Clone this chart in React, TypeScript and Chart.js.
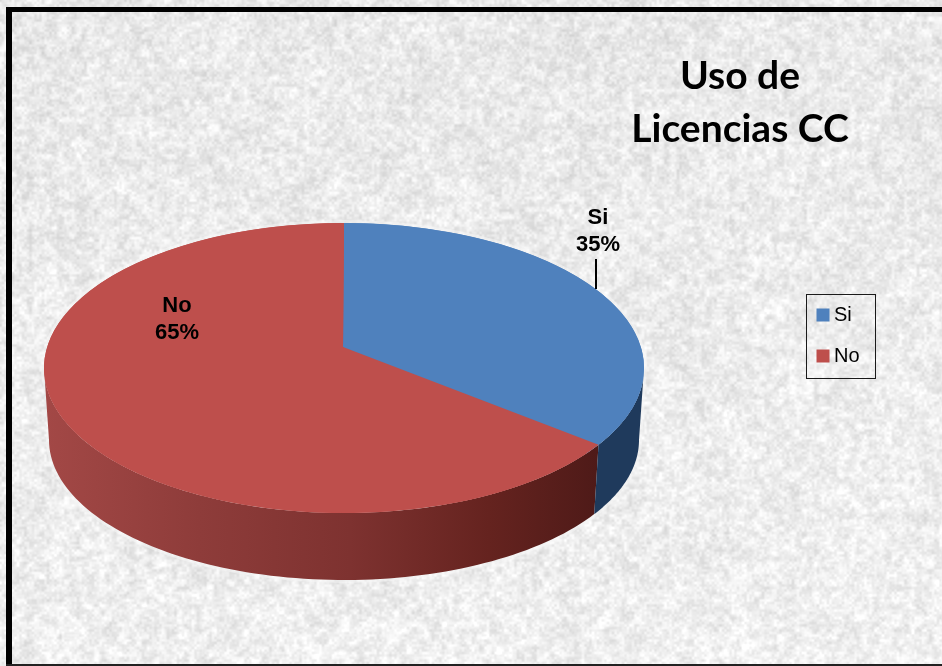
import React, { useEffect, useRef } from "react";
import { Chart, registerables } from "chart.js";

Chart.register(...registerables);

const categories = ["Si", "No"];
const percentages = [35, 65];
const topColors = ["#4F81BD", "#BE4F4C"];
const titleLines = ["Uso de", "Licencias CC"];

const W = 942;
const H = 666;
const TOP = { cx: 344, cy: 368, rx: 300, ry: 145 };
const BOTTOM = { cx: 344, cy: 440, rx: 295, ry: 140 };
const APEX = { x: 343, y: 347 };
const LABEL_POS = [
  { x: 598, y: 232 },
  { x: 177, y: 320 },
];
const LEGEND_BOX = { x: 806, y: 294, w: 69, h: 84 };
const TITLE_CENTER = 740;

const hash = (x: number, y: number, s: number) => {
  const v = Math.sin(x * 12.9898 + y * 78.233 + s * 37.719) * 43758.5453;
  return v - Math.floor(v);
};
const smooth = (t: number) => t * t * (3 - 2 * t);
const vnoise = (x: number, y: number, s: number) => {
  const xi = Math.floor(x), yi = Math.floor(y);
  const fx = smooth(x - xi), fy = smooth(y - yi);
  const a = hash(xi, yi, s), b = hash(xi + 1, yi, s);
  const c = hash(xi, yi + 1, s), d = hash(xi + 1, yi + 1, s);
  return (a + (b - a) * fx) * (1 - fy) + (c + (d - c) * fx) * fy;
};

let textureCache: HTMLCanvasElement | null = null;
function texture() {
  if (textureCache) return textureCache;
  const c = document.createElement("canvas");
  c.width = W;
  c.height = H;
  const g = c.getContext("2d")!;
  const img = g.createImageData(W, H);
  for (let y = 0; y < H; y++) {
    for (let x = 0; x < W; x++) {
      const n =
        (vnoise(x / 2.5, y / 2.5, 1) - 0.5) * 22 +
        (vnoise(x / 6, y / 6, 2) - 0.5) * 24 +
        (vnoise(x / 26, y / 26, 3) - 0.5) * 8;
      const v = 233 + (y / H) * 7 + n;
      const i = (y * W + x) * 4;
      img.data[i] = v;
      img.data[i + 1] = v;
      img.data[i + 2] = v;
      img.data[i + 3] = 255;
    }
  }
  g.putImageData(img, 0, 0);
  textureCache = c;
  return c;
}

const skew = (a: number) => {
  const t = a + Math.PI / 2;
  return a - 0.087 * Math.sin(t);
};
const onEllipse = (e: typeof TOP, a: number) => ({
  x: e.cx + e.rx * Math.cos(a),
  y: e.cy + e.ry * Math.sin(a),
});

function drawWall(ctx: CanvasRenderingContext2D, from: number, to: number, fill: string | CanvasGradient) {
  ctx.beginPath();
  const steps = 90;
  for (let i = 0; i <= steps; i++) {
    const p = onEllipse(TOP, from + ((to - from) * i) / steps);
    i === 0 ? ctx.moveTo(p.x, p.y) : ctx.lineTo(p.x, p.y);
  }
  for (let i = steps; i >= 0; i--) {
    const p = onEllipse(BOTTOM, from + ((to - from) * i) / steps);
    ctx.lineTo(p.x, p.y);
  }
  ctx.closePath();
  ctx.fillStyle = fill;
  ctx.fill();
}

const pie3d = {
  id: "pie3d",
  beforeDraw(chart: any) {
    const ctx = chart.ctx as CanvasRenderingContext2D;
    ctx.save();
    ctx.fillStyle = "#ffffff";
    ctx.fillRect(0, 0, W, H);
    ctx.drawImage(texture(), 0, 0);
    ctx.fillStyle = "#000000";
    ctx.fillRect(6, 7, 6, H - 7);
    ctx.fillRect(6, 7, W - 6, 5);
    ctx.fillStyle = "#222222";
    ctx.fillRect(6, 664, W - 6, 2);
    ctx.restore();
  },
  beforeDatasetDraw(chart: any) {
    const ctx = chart.ctx as CanvasRenderingContext2D;
    const arcs = chart.getDatasetMeta(0).data;
    const first = arcs[0];
    const boundary = skew(first.endAngle);

    ctx.save();
    // soft light halo round the disc
    ctx.beginPath();
    ctx.ellipse(TOP.cx, TOP.cy, TOP.rx + 1, TOP.ry + 1, 0, 0, Math.PI * 2);
    ctx.ellipse(BOTTOM.cx, BOTTOM.cy, BOTTOM.rx + 1, BOTTOM.ry + 1, 0, 0, Math.PI * 2);
    ctx.strokeStyle = "rgba(248,248,248,0.45)";
    ctx.lineWidth = 4;
    ctx.stroke();

    const red = ctx.createLinearGradient(TOP.cx - TOP.rx, 0, 600, 0);
    red.addColorStop(0, "#A34846");
    red.addColorStop(0.28, "#8E3C3A");
    red.addColorStop(0.55, "#7E3230");
    red.addColorStop(0.8, "#65231F");
    red.addColorStop(1, "#4E1A18");
    drawWall(ctx, boundary, Math.PI, red);
    drawWall(ctx, 0, boundary, "#1F3A5C");
    ctx.restore();

    ctx.save();
    const sx = TOP.rx / first.outerRadius;
    const sy = TOP.ry / first.outerRadius;
    ctx.setTransform(sx, 0, 0, sy, TOP.cx - first.x * sx, TOP.cy - first.y * sy);
  },
  afterDatasetDraw(chart: any) {
    const ctx = chart.ctx as CanvasRenderingContext2D;
    ctx.restore();
    const arcs = chart.getDatasetMeta(0).data;
    ctx.save();
    arcs.forEach((arc: any, i: number) => {
      ctx.beginPath();
      ctx.moveTo(APEX.x, APEX.y);
      ctx.ellipse(TOP.cx, TOP.cy, TOP.rx, TOP.ry, 0, skew(arc.startAngle), skew(arc.endAngle));
      ctx.closePath();
      ctx.fillStyle = topColors[i];
      ctx.fill();
    });

    // leader line
    ctx.strokeStyle = "#000000";
    ctx.lineWidth = 2;
    ctx.beginPath();
    ctx.moveTo(596, 259);
    ctx.lineTo(596, 289);
    ctx.stroke();

    // data labels
    const total = percentages.reduce((a, b) => a + b, 0);
    ctx.fillStyle = "#000000";
    ctx.textAlign = "center";
    ctx.textBaseline = "middle";
    ctx.font = 'bold 22px "Liberation Sans"';
    categories.forEach((name, i) => {
      const p = LABEL_POS[i];
      ctx.fillText(name, p.x, p.y - 14);
      ctx.fillText(`${Math.round((percentages[i] / total) * 100)}%`, p.x, p.y + 13);
    });

    // legend frame
    ctx.strokeStyle = "#1a1a1a";
    ctx.lineWidth = 1;
    ctx.strokeRect(LEGEND_BOX.x + 0.5, LEGEND_BOX.y + 0.5, LEGEND_BOX.w, LEGEND_BOX.h);
    ctx.restore();
  },
  afterLayout(chart: any) {
    const l = chart.legend;
    l.left = LEGEND_BOX.x - 5;
    l.right = LEGEND_BOX.x + LEGEND_BOX.w;
    l.top = LEGEND_BOX.y - 10;
    l.bottom = LEGEND_BOX.y + 200;
    const t = chart.titleBlock;
    t.left = TITLE_CENTER - 200;
    t.right = TITLE_CENTER + 200;
    t.top = 50;
  },
};

export default function App() {
  const ref = useRef<HTMLCanvasElement>(null);
  useEffect(() => {
    const chart = new Chart(ref.current!, {
      type: "pie",
      data: {
        labels: categories,
        datasets: [
          {
            data: percentages,
            backgroundColor: topColors,
            borderWidth: 0,
            clip: false,
          } as any,
        ],
      },
      options: {
        responsive: false,
        animation: false,
        events: [],
        plugins: {
          tooltip: { enabled: false },
          title: {
            display: true,
            text: titleLines,
            color: "#000000",
            font: { family: "Lato", weight: "bold", size: 39, lineHeight: 1.36 },
            padding: 0,
          },
          legend: {
            display: true,
            position: "right",
            align: "start",
            labels: {
              color: "#000000",
              font: { family: "Liberation Sans", size: 20 },
              boxWidth: 2,
              boxHeight: 13,
              usePointStyle: true,
              pointStyle: "rect",
              padding: 21,
            },
          },
        },
      },
      plugins: [pie3d],
    } as any);
    return () => chart.destroy();
  }, []);
  return (
    <div style={{ position: "fixed", left: 0, top: 0, width: W, height: H }}>
      <canvas ref={ref} width={W} height={H} style={{ display: "block" }} />
    </div>
  );
}
